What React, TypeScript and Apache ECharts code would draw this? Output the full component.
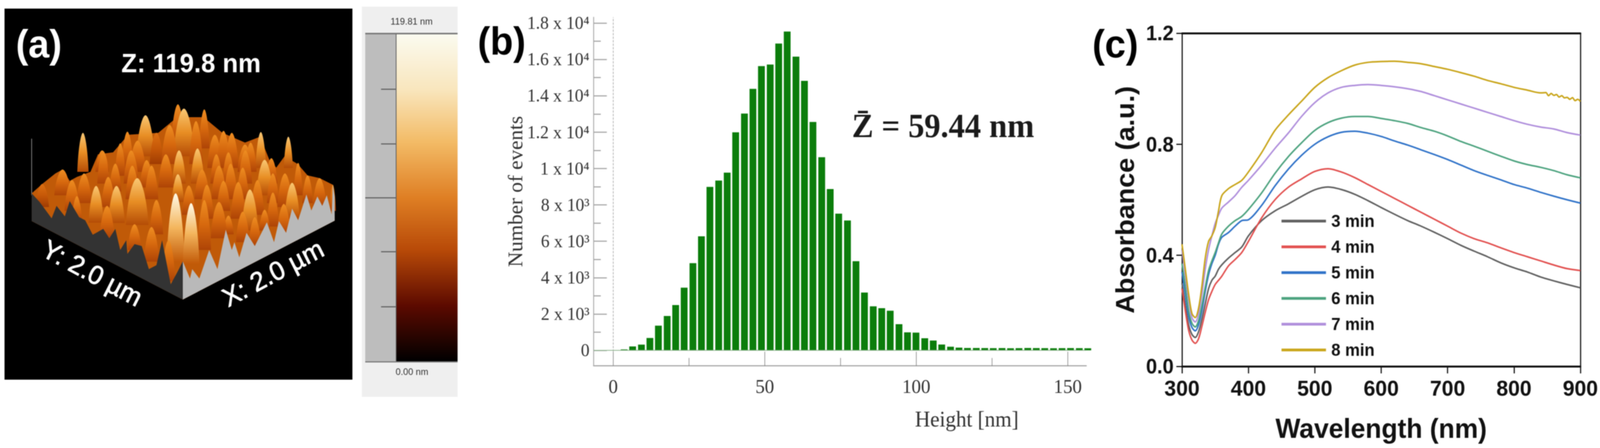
import { useEffect, useRef } from 'react'
import * as echarts from 'echarts'

// (b) height histogram
const heightBins = [3.6, 6.4, 9.3, 12.1, 14.9, 17.8, 20.6, 23.4, 26.3, 29.1, 31.9, 34.8, 37.6, 40.4, 43.3, 46.1, 48.9, 51.8, 54.6, 57.4, 60.3, 63.1, 65.9, 68.8, 71.6, 74.4, 77.3, 80.1, 82.9, 85.8, 88.6, 91.4, 94.3, 97.1, 99.9, 102.8, 105.6, 108.4, 111.3, 114.1, 116.9, 119.8, 122.6, 125.4, 128.3, 131.1, 133.9, 136.8, 139.6, 142.4, 145.3, 148.1, 150.9, 153.8, 156.6]
const heightCounts = [50, 215, 315, 680, 1360, 1890, 2490, 3445, 4795, 6270, 8990, 9340, 9775, 11990, 13020, 14380, 15630, 15720, 16870, 17530, 16150, 14820, 12560, 10620, 8870, 7520, 7140, 4900, 3180, 2420, 2320, 2180, 1440, 990, 975, 665, 540, 320, 200, 150, 130, 130, 125, 120, 125, 115, 120, 130, 125, 120, 115, 120, 125, 120, 115]
const countTicks = [0, 2000, 4000, 6000, 8000, 10000, 12000, 14000, 16000, 18000]
const countLabels = ['0', '2 x 10³', '4 x 10³', '6 x 10³', '8 x 10³', '1 x 10⁴', '1.2 x 10⁴', '1.4 x 10⁴', '1.6 x 10⁴', '1.8 x 10⁴']
const countMinorTicks = [1000, 3000, 5000, 7000, 9000, 11000, 13000, 15000, 17000]
const heightTicks = [0, 50, 100, 150]
const heightMinorTicks = [25, 75, 125]

// (c) absorbance spectra
const wavelengths = [300, 305, 310, 315, 320, 325, 330, 335, 340, 345, 350, 355, 360, 370, 380, 390, 400, 420, 440, 460, 480, 500, 520, 540, 560, 580, 600, 620, 640, 660, 680, 700, 720, 740, 760, 780, 800, 820, 840, 860, 880, 900]
const abs3min = [0.3, 0.22, 0.15, 0.115, 0.104, 0.125, 0.17, 0.225, 0.28, 0.31, 0.325, 0.35, 0.366, 0.39, 0.41, 0.43, 0.47, 0.525, 0.56, 0.585, 0.612, 0.636, 0.646, 0.637, 0.62, 0.597, 0.572, 0.548, 0.525, 0.505, 0.483, 0.46, 0.436, 0.415, 0.395, 0.373, 0.355, 0.34, 0.322, 0.308, 0.295, 0.283]
const abs4min = [0.28, 0.2, 0.13, 0.095, 0.083, 0.1, 0.145, 0.195, 0.24, 0.27, 0.295, 0.31, 0.325, 0.362, 0.385, 0.41, 0.45, 0.535, 0.6, 0.645, 0.675, 0.702, 0.712, 0.7, 0.68, 0.655, 0.63, 0.605, 0.58, 0.555, 0.53, 0.505, 0.48, 0.46, 0.445, 0.427, 0.41, 0.395, 0.38, 0.365, 0.352, 0.345]
const abs5min = [0.34, 0.26, 0.18, 0.14, 0.128, 0.15, 0.2, 0.27, 0.33, 0.37, 0.4, 0.44, 0.465, 0.482, 0.505, 0.525, 0.528, 0.58, 0.65, 0.71, 0.76, 0.8, 0.827, 0.843, 0.847, 0.84, 0.828, 0.812, 0.797, 0.78, 0.763, 0.745, 0.725, 0.705, 0.688, 0.672, 0.655, 0.642, 0.627, 0.613, 0.6, 0.588]
const abs6min = [0.37, 0.29, 0.2, 0.155, 0.142, 0.165, 0.22, 0.285, 0.345, 0.38, 0.41, 0.445, 0.477, 0.505, 0.525, 0.54, 0.565, 0.625, 0.695, 0.755, 0.805, 0.85, 0.878, 0.894, 0.9, 0.9, 0.893, 0.885, 0.875, 0.86, 0.847, 0.83, 0.81, 0.793, 0.775, 0.757, 0.74, 0.727, 0.717, 0.705, 0.69, 0.679]
const abs7min = [0.42, 0.33, 0.24, 0.175, 0.16, 0.19, 0.26, 0.35, 0.42, 0.47, 0.515, 0.545, 0.57, 0.592, 0.615, 0.645, 0.67, 0.725, 0.785, 0.84, 0.9, 0.95, 0.985, 1.005, 1.012, 1.015, 1.012, 1.007, 1.0, 0.99, 0.975, 0.96, 0.945, 0.93, 0.915, 0.9, 0.885, 0.872, 0.862, 0.855, 0.842, 0.833]
const abs8min = [0.44, 0.35, 0.26, 0.19, 0.176, 0.21, 0.29, 0.39, 0.45, 0.47, 0.5, 0.56, 0.615, 0.64, 0.655, 0.67, 0.7, 0.77, 0.85, 0.905, 0.955, 1.005, 1.04, 1.065, 1.085, 1.095, 1.098, 1.099, 1.095, 1.09, 1.08, 1.07, 1.058, 1.045, 1.03, 1.018, 1.005, 0.995, 0.985]
// the 8 min trace gets noisy past 840 nm
const abs8minTail = [[848, 0.986], [852, 0.975], [856, 0.983], [860, 0.976], [864, 0.979], [868, 0.97], [872, 0.975], [876, 0.967], [880, 0.969], [884, 0.962], [888, 0.968], [892, 0.957], [896, 0.962], [900, 0.954]]
const spectraNames = ['3 min', '4 min', '5 min', '6 min', '7 min', '8 min']
const spectraValues = [abs3min, abs4min, abs5min, abs6min, abs7min, abs8min]
const spectraTails: number[][][] = [[], [], [], [], [], abs8minTail]
const spectraColors = ['#5f5f5f', '#e2504f', '#2f72c8', '#4da37f', '#b08fdc', '#c9a51a']

// (a) AFM relief: [x, tip y, base y, half width, tone]
const reliefPeaks = [
  [220, 340, 440, 15, 2], [271, 385, 440, 18, 1], [319, 367, 450, 14, 1], [338, 337, 430, 16, 1], [365, 360, 440, 22, 1],
  [386, 295, 400, 24, 2], [415, 340, 420, 18, 0], [450, 320, 420, 22, 1], [472, 267, 370, 18, 1], [488, 278, 400, 28, 2],
  [520, 310, 420, 18, 1], [542, 280, 380, 14, 1], [570, 345, 430, 20, 1], [593, 335, 430, 18, 1], [615, 340, 430, 18, 1],
  [650, 370, 440, 20, 1], [692, 338, 430, 14, 2], [665, 365, 440, 16, 1], [720, 405, 470, 16, 1], [765, 350, 430, 12, 2],
  [274, 387, 470, 16, 1], [348, 385, 470, 20, 1], [306, 419, 490, 16, 1], [389, 410, 480, 18, 1], [440, 395, 480, 20, 1],
  [475, 385, 470, 18, 2], [524, 380, 470, 18, 2], [574, 395, 470, 16, 1], [606, 390, 470, 16, 1], [651, 385, 470, 18, 1],
  [702, 409, 500, 22, 2], [166, 434, 500, 22, 1], [112, 471, 530, 18, 0], [223, 444, 520, 20, 1], [287, 453, 530, 18, 1],
  [351, 424, 510, 18, 1], [402, 424, 510, 18, 1], [472, 446, 517, 16, 2], [536, 434, 510, 20, 1], [581, 424, 510, 20, 1],
  [612, 419, 510, 18, 1], [644, 429, 510, 16, 1], [756, 444, 530, 20, 1], [724, 444, 520, 16, 1], [791, 417, 500, 12, 1],
  [816, 449, 520, 14, 1], [848, 456, 530, 18, 1], [883, 473, 540, 8, 1], [191, 461, 540, 20, 1], [255, 476, 570, 20, 2],
  [309, 476, 571, 22, 2], [364, 456, 576, 30, 2], [415, 512, 600, 18, 1], [501, 475, 550, 18, 1], [549, 473, 560, 18, 1],
  [593, 463, 540, 18, 1], [632, 466, 560, 20, 1], [663, 485, 590, 22, 2], [724, 493, 580, 16, 1], [775, 468, 560, 20, 2],
  [683, 461, 550, 18, 1], [284, 527, 610, 20, 1], [204, 502, 570, 14, 1], [357, 574, 640, 18, 1], [402, 581, 670, 20, 1],
  [466, 495, 670, 24, 3], [507, 520, 675, 22, 3], [581, 517, 610, 22, 1], [644, 542, 620, 18, 1], [542, 512, 640, 18, 1],
  [447, 615, 720, 18, 1], [606, 552, 600, 14, 1], [702, 537, 590, 14, 1], [753, 522, 600, 18, 1], [676, 556, 630, 16, 1],
]
const reliefOutline = [[84, 495], [112, 471], [147, 444], [166, 434], [185, 463], [204, 453], [240, 440], [260, 395], [300, 390], [340, 345], [420, 340], [470, 300], [540, 300], [590, 340], [650, 365], [690, 350], [715, 410], [733, 429], [755, 400], [790, 420], [816, 449], [848, 456], [883, 473], [888, 565], [485, 767], [84, 566]]
const leftWallEdge = [[84, 495], [105, 517], [137, 559], [150, 527], [172, 554], [185, 515], [210, 556], [226, 564], [246, 601], [274, 586], [290, 610], [306, 586], [319, 640], [335, 615], [338, 650], [357, 625], [376, 630], [395, 689], [415, 679], [430, 615], [453, 728], [472, 694], [485, 669]]
const rightWallEdge = [[485, 669], [504, 713], [510, 689], [529, 713], [555, 640], [577, 689], [599, 588], [615, 640], [622, 620], [635, 659], [654, 596], [676, 630], [708, 569], [727, 620], [740, 566], [759, 596], [775, 534], [791, 564], [813, 498], [826, 539], [842, 503], [855, 527], [867, 500], [880, 549], [883, 473], [888, 503]]
const wallFront = [485, 767]
const wallLeft = [84, 566]
const wallRight = [888, 565]

const peakTones = [
  ['#dc7012', '#c65808', '#a03c02'],
  ['#ee8e22', '#d6680e', '#ae4406'],
  ['#f9c874', '#e88e24', '#b44c06'],
  ['#fffbe8', '#f4b65e', '#c25a08'],
]

const serif = '"Liberation Serif", serif'
const sans = '"Liberation Sans", Arial, sans-serif'
const PAGE_WIDTH = 4245
const PAGE_HEIGHT = 1147

function label(text: string, x: number, y: number, fontSize: number, extra: any = {}) {
  const { rotation, fill, ...style } = extra
  return {
    type: 'text',
    x,
    y,
    rotation: rotation || 0,
    z: 100,
    style: { text, fontSize, fontFamily: sans, fill: fill || '#000', align: 'center', verticalAlign: 'middle', ...style },
  }
}

function rect(x: number, y: number, width: number, height: number, fill: any) {
  return { type: 'rect', z: -1, shape: { x, y, width, height }, style: { fill } }
}

function renderPeak(_: any, api: any) {
  const [x, tip] = api.coord([api.value(0), api.value(1)])
  const [, base] = api.coord([api.value(0), api.value(2)])
  const hw = api.value(3)
  const tone = peakTones[api.value(4)]
  const h = base - tip
  const d = `M${x - hw} ${base}C${x - hw * 0.85} ${base - h * 0.6} ${x - hw * 0.35} ${tip} ${x} ${tip}C${x + hw * 0.35} ${tip} ${x + hw * 0.85} ${base - h * 0.6} ${x + hw} ${base}Z`
  return {
    type: 'path',
    shape: { pathData: d },
    style: {
      fill: new echarts.graphic.LinearGradient(0, 0, 0, 1, [
        { offset: 0, color: tone[0] },
        { offset: 0.5, color: tone[1] },
        { offset: 1, color: tone[2] },
      ]),
    },
  }
}

function polygonSeries(points: number[][], fill: string) {
  return {
    type: 'custom',
    xAxisIndex: 0,
    yAxisIndex: 0,
    clip: false,
    silent: true,
    data: [0],
    renderItem: (_: any, api: any) => ({
      type: 'polygon',
      shape: { points: points.map(p => api.coord(p)) },
      style: { fill },
    }),
  }
}

export default function App() {
  const chartRef = useRef<HTMLDivElement>(null)

  useEffect(() => {
    if (!chartRef.current) return
    // the browser window may be narrower than the picture
    const fit = Math.min(1, window.innerWidth / PAGE_WIDTH)
    chartRef.current.style.transform = `scaleX(${fit})`
    const chart = echarts.init(chartRef.current, null, { renderer: 'svg' })

    const sortedPeaks = [...reliefPeaks].sort((a, b) => a[2] - b[2])

    const option: any = {
      animation: false,
      backgroundColor: '#fff',
      textStyle: { fontFamily: sans },
      grid: [
        { left: 0, top: 0, width: PAGE_WIDTH, height: PAGE_HEIGHT },
        { left: 1575, top: 44, width: 1307, height: 892.5 },
        { left: 3136, top: 85, width: 1057, height: 853 },
      ],
      xAxis: [
        { type: 'value', gridIndex: 0, min: 0, max: PAGE_WIDTH, show: false },
        {
          type: 'value',
          gridIndex: 1,
          position: 'bottom',
          min: -6.47,
          max: 156.1,
          splitLine: { show: false },
          axisLine: { onZero: false, lineStyle: { color: '#a8a8a8', width: 3 } },
          axisTick: { inside: true, length: 36, customValues: heightTicks, lineStyle: { color: '#777', width: 1.5 } },
          axisLabel: { customValues: heightTicks, margin: 28, fontFamily: serif, fontSize: 50, color: '#333' },
        },
        {
          type: 'value',
          gridIndex: 1,
          position: 'bottom',
          min: -6.47,
          max: 156.1,
          splitLine: { show: false },
          axisLine: { show: false, onZero: false },
          axisLabel: { show: false },
          axisTick: { inside: true, length: 20, customValues: heightMinorTicks, lineStyle: { color: '#777', width: 1.5 } },
        },
        {
          type: 'value',
          gridIndex: 2,
          position: 'bottom',
          min: 300,
          max: 900,
          interval: 100,
          splitLine: { show: false },
          axisLine: { onZero: false, lineStyle: { color: '#111', width: 5 } },
          axisTick: { length: 18, lineStyle: { color: '#111', width: 3 } },
          axisLabel: { margin: 28, fontSize: 56, color: '#111', fontWeight: 'bold' },
          name: 'Wavelength (nm)',
          nameLocation: 'middle',
          nameGap: 159,
          nameTextStyle: { fontSize: 70, fontWeight: 'bold', color: '#111', verticalAlign: 'middle' },
        },
        {
          type: 'value',
          gridIndex: 2,
          position: 'top',
          min: 300,
          max: 900,
          interval: 100,
          splitLine: { show: false },
          axisLine: { onZero: false, lineStyle: { color: '#111', width: 5 } },
          axisTick: { show: false },
          axisLabel: { show: false },
        },
      ],
      yAxis: [
        { type: 'value', gridIndex: 0, min: 0, max: PAGE_HEIGHT, inverse: true, show: false },
        {
          type: 'value',
          gridIndex: 1,
          position: 'left',
          min: -849,
          max: 18322,
          splitLine: { show: false },
          axisLine: { onZero: false, lineStyle: { color: '#999', width: 2 } },
          axisTick: { inside: true, length: 35, customValues: countTicks, lineStyle: { color: '#aaa', width: 3 } },
          axisLabel: {
            customValues: countTicks,
            margin: 11,
            fontFamily: serif,
            fontSize: 46,
            color: '#333',
            formatter: (v: number) => countLabels[countTicks.indexOf(v)],
          },
          name: 'Number of events',
          nameLocation: 'middle',
          nameGap: 198,
          nameTextStyle: { fontFamily: serif, fontSize: 54, color: '#333', verticalAlign: 'middle' },
        },
        {
          type: 'value',
          gridIndex: 1,
          position: 'left',
          min: -849,
          max: 18322,
          splitLine: { show: false },
          axisLine: { show: false, onZero: false },
          axisLabel: { show: false },
          axisTick: { inside: true, length: 19, customValues: countMinorTicks, lineStyle: { color: '#aaa', width: 3 } },
        },
        {
          type: 'value',
          gridIndex: 2,
          position: 'left',
          min: 0,
          max: 1.2,
          interval: 0.4,
          splitLine: { show: false },
          axisLine: { onZero: false, lineStyle: { color: '#111', width: 3 } },
          axisTick: { length: 15, lineStyle: { color: '#111', width: 3 } },
          axisLabel: { margin: 22, fontSize: 53, color: '#111', fontWeight: 'bold', formatter: (v: number) => v.toFixed(1) },
          name: 'Absorbance (a.u.)',
          nameLocation: 'middle',
          nameGap: 151,
          nameTextStyle: { fontSize: 69, fontWeight: 'bold', color: '#111', verticalAlign: 'middle' },
        },
        {
          type: 'value',
          gridIndex: 2,
          position: 'right',
          min: 0,
          max: 1.2,
          interval: 0.4,
          splitLine: { show: false },
          axisLine: { onZero: false, lineStyle: { color: '#111', width: 3 } },
          axisTick: { show: false },
          axisLabel: { show: false },
        },
      ],
      legend: {
        data: spectraNames.map(name => ({ name, icon: 'rect' })),
        orient: 'vertical',
        left: 3400,
        top: 544,
        padding: 0,
        itemWidth: 118,
        itemHeight: 7,
        itemGap: 22,
        textStyle: { fontSize: 44, lineHeight: 44, fontWeight: 'bold', color: '#111', padding: [0, 0, 0, 9] },
      },
      graphic: [
        // AFM panel
        rect(12, 22, 923, 950, '#000'),
        { type: 'line', z: 0, shape: { x1: 84, y1: 355, x2: 84, y2: 500 }, style: { stroke: '#8a8a8a', lineWidth: 2 } },
        // colour bar panel
        rect(960, 17, 254, 999, '#efefef'),
        rect(969, 87, 82, 838, '#bdbdbd'),
        rect(1051, 87, 163, 838, new echarts.graphic.LinearGradient(0, 0, 0, 1, [
          { offset: 0, color: '#fbfbf0' },
          { offset: 0.17, color: '#f9e6bd' },
          { offset: 0.33, color: '#f3bb66' },
          { offset: 0.5, color: '#df7f24' },
          { offset: 0.66, color: '#b84a08' },
          { offset: 0.83, color: '#5c0a00' },
          { offset: 1, color: '#000' },
        ])),
        rect(969, 84, 245, 4, '#7a7a7a'),
        rect(969, 925, 245, 3, '#7a7a7a'),
        rect(1050, 87, 2, 838, '#5a5a5a'),
        rect(1011, 227, 40, 3, '#666'),
        rect(1011, 367, 40, 3, '#666'),
        rect(969, 505, 82, 3, '#666'),
        rect(1011, 643, 40, 3, '#666'),
        rect(1011, 784, 40, 3, '#666'),
        label('119.81 nm', 1092, 55, 24, { fill: '#333' }),
        label('0.00 nm', 1093, 952, 24, { fill: '#333' }),
        // panel letters and annotations
        label('(a)', 103, 112, 100, { fill: '#fff', fontWeight: 'bold' }),
        label('Z: 119.8 nm', 507, 162, 68, { fill: '#fff', fontWeight: 'bold' }),
        label('Y: 2.0 µm', 245, 699, 68, { fill: '#fff', rotation: -0.48, stroke: '#fff', lineWidth: 1.5 }),
        label('X: 2.0 µm', 724, 699, 68, { fill: '#fff', rotation: 0.48, stroke: '#fff', lineWidth: 1.5 }),
        label('(b)', 1331, 105, 100, { fontWeight: 'bold' }),
        label('Z̄ = 59.44 nm', 2502, 322, 86, { fontFamily: serif, fontWeight: 'bold', fill: '#1a1a1a' }),
        label('Height [nm]', 2565, 1073, 56, { fontFamily: serif, fill: '#333' }),
        label('(c)', 2959, 112, 100, { fontWeight: 'bold' }),
      ],
      series: [
        polygonSeries(reliefOutline, '#c05a08'),
        {
          type: 'custom',
          xAxisIndex: 0,
          yAxisIndex: 0,
          clip: false,
          silent: true,
          encode: { x: 0, y: 1 },
          data: sortedPeaks,
          renderItem: renderPeak,
        },
        polygonSeries([...leftWallEdge, wallFront, wallLeft], '#333333'),
        polygonSeries([...rightWallEdge, wallRight, wallFront], '#b9b9b9'),
        {
          type: 'bar',
          name: 'events',
          xAxisIndex: 1,
          yAxisIndex: 1,
          barWidth: 18,
          itemStyle: { color: '#0b7d0b' },
          data: heightBins.map((h, i) => [h, heightCounts[i]]),
          markLine: {
            silent: true,
            symbol: 'none',
            label: { show: false },
            data: [
              { xAxis: 0, lineStyle: { color: '#999', type: 'dashed', width: 1.5 } },
              { yAxis: 0, lineStyle: { color: '#8fb58f', type: 'solid', width: 2 } },
            ],
          },
        },
        ...spectraNames.map((name, s) => ({
          type: 'line',
          name,
          xAxisIndex: 3,
          yAxisIndex: 3,
          symbol: 'none',
          smooth: 0.3,
          lineStyle: { width: 4, color: spectraColors[s] },
          itemStyle: { color: spectraColors[s] },
          data: [...spectraValues[s].map((v, i) => [wavelengths[i], v]), ...spectraTails[s]],
        })),
      ],
    }

    chart.setOption(option)
    return () => {
      chart.dispose()
    }
  }, [])

  return <div ref={chartRef} style={{ position: 'fixed', left: 0, top: 0, width: PAGE_WIDTH, height: PAGE_HEIGHT, transformOrigin: '0 0', filter: 'blur(1px)' }} />
}
